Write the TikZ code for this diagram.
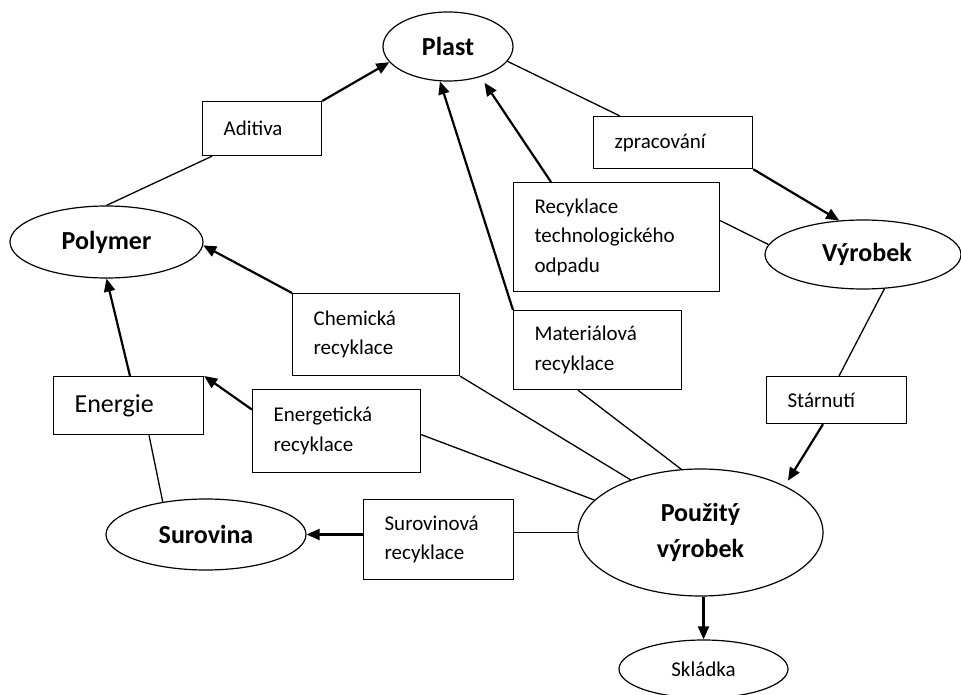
\documentclass[tikz,border=0pt]{standalone}
\usepackage{fontspec}
\setmainfont{Carlito}
\usetikzlibrary{shapes.geometric,arrows.meta}
\begin{document}
\begin{tikzpicture}[x=1pt,y=-1pt,
  box/.style={draw, line width=1.2pt, rectangle, anchor=north west, inner xsep=21pt, inner ysep=0pt, align=left, font=\fontsize{21}{29.5}\selectfont},
  ell/.style={draw, ellipse, inner sep=0pt, line width=1.2pt, font=\bfseries\fontsize{26}{36}\selectfont},
  conn/.style={line width=1.3pt},
  arr/.style={line width=2.2pt, -{Triangle[length=13pt,width=11pt]}}]
\useasboundingbox (0,0) rectangle (961,695);

% ellipses
\node[ell, minimum width=130pt, minimum height=69pt] (plast) at (448,46.5) {Plast\hspace{8pt}};
\node[ell, minimum width=193pt, minimum height=72pt] (polymer) at (106.5,242) {Polymer\hspace{14pt}};
\node[ell, minimum width=200pt, minimum height=71pt] (surovina) at (206,534.5) {Surovina\hspace{14pt}};
\node[ell, minimum width=196pt, minimum height=69pt] (vyrobek) at (863,254.5) {\hspace{8pt}Výrobek};
\node[ell, minimum width=245pt, minimum height=127pt, align=center] (pouz) at (700.5,532.5) {Použitý\\výrobek};
\node[ell, minimum width=169pt, minimum height=58pt, font=\fontsize{21}{25}\selectfont] (skl) at (703.5,669) {Skládka};

% boxes
\node[box, text width=77pt, minimum height=54pt] (aditiva) at (202,101) {Aditiva};
\node[box, text width=117pt, minimum height=52pt] (zprac) at (593,116) {zpracování};
\node[box, text width=164pt, minimum height=109pt] (rec) at (513,182) {Recyklace\\technologického\\odpadu};
\node[box, text width=125pt, minimum height=82pt] (chem) at (292,293) {Chemická\\recyklace};
\node[box, text width=126pt, minimum height=79pt] (mat) at (513,310) {Materiálová\\recyklace};
\node[box, text width=108pt, minimum height=58pt, font=\fontsize{26}{32}\selectfont] (energie) at (53,376) {Energie};
\node[box, text width=126pt, minimum height=83pt] (energ) at (252,389) {Energetická\\recyklace};
\node[box, text width=98pt, minimum height=47pt] (starn) at (766,376) {Stárnutí};
\node[box, text width=108pt, minimum height=80pt] (surov) at (363,499) {Surovinová\\recyklace};

% connectors
\draw[conn] (polymer.north) -- ([xshift=10pt]aditiva.south west);
\draw[arr] (aditiva.north east) -- (plast.195);
\draw[conn] (plast.346) -- ([xshift=27pt]zprac.north west);
\draw[arr] (zprac.south east) -- (vyrobek.125);
\draw[arr, shorten >=7pt] ([xshift=38pt]rec.north west) -- (plast.317);
\draw[conn] ([yshift=16.5pt]rec.east) -- (vyrobek.174);
\draw[arr] (mat.north west) -- (plast.257);
\draw[conn] ([xshift=65pt]mat.south west) -- (pouz.107);
\draw[arr] (chem.north west) -- (polymer.358);
\draw[conn] (chem.south east) -- (pouz.143);
\draw[arr] ([xshift=77pt]energie.north west) -- (polymer.south);
\draw[conn] ([xshift=96pt]energie.south west) -- (surovina.143);
\draw[arr] ([yshift=21.5pt]energ.west) -- (energie.north east);
\draw[conn] ([yshift=-3.5pt]energ.east) -- (pouz.163);
\draw[arr] (surov.west |- surovina.east) -- (surovina.east);
\draw[conn] (surov.east |- pouz.west) -- (pouz.west);
\draw[conn] (vyrobek.302) -- ([xshift=73pt]starn.north west);
\draw[arr, shorten >=6pt] ([xshift=57pt]starn.south west) -- (pouz.29);
\draw[arr] (pouz.south -| skl.north) -- (skl.north);
\end{tikzpicture}
\end{document}
